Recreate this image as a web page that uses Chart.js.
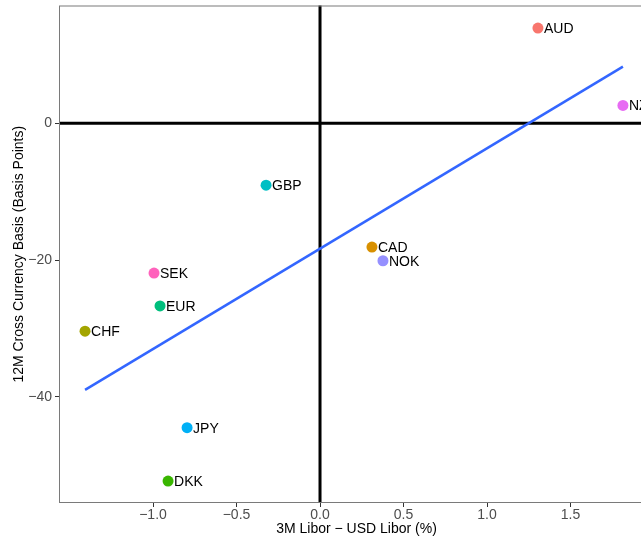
<!DOCTYPE html>
<html>
<head>
<meta charset="utf-8">
<script src="https://cdn.jsdelivr.net/npm/chart.js@4.4.1/dist/chart.umd.min.js"></script>
<style>
    html, body { margin: 0; padding: 0; background: #fff; width: 641px; height: 538px; overflow: hidden; }
    canvas { display: block; }
</style>
</head>
<body>
<canvas id="basis-chart" width="660" height="538"></canvas>
<script>
// Datos
const monedas = ['AUD', 'NZD', 'GBP', 'CAD', 'NOK', 'SEK', 'EUR', 'CHF', 'JPY', 'DKK'];
const diferencialLibor = [1.305, 1.814, -0.323, 0.311, 0.377, -0.994, -0.958, -1.407, -0.796, -0.910];
const basisPuntos = [13.9, 2.6, -9.05, -18.1, -20.1, -21.9, -26.7, -30.4, -44.5, -52.3];
const coloresMoneda = ['#F8766D', '#E76BF3', '#00BFC4', '#D89000', '#9590FF', '#FF62BC', '#00BF7D', '#A3A500', '#00B0F6', '#39B600'];
const xTicks = [-1.0, -0.5, 0.0, 0.5, 1.0, 1.5];
const yTicks = [-40, -20, 0];

document.addEventListener('DOMContentLoaded', () => {
    const canvas = document.getElementById('basis-chart');

    // Recta de regresión (mínimos cuadrados) sobre los puntos
    const n = diferencialLibor.length;
    const mediaX = diferencialLibor.reduce((a, b) => a + b, 0) / n;
    const mediaY = basisPuntos.reduce((a, b) => a + b, 0) / n;
    let sxy = 0, sxx = 0;
    for (let i = 0; i < n; i++) {
        sxy += (diferencialLibor[i] - mediaX) * (basisPuntos[i] - mediaY);
        sxx += (diferencialLibor[i] - mediaX) ** 2;
    }
    const pendiente = sxy / sxx;
    const intercepto = mediaY - pendiente * mediaX;
    const xMin = Math.min(...diferencialLibor);
    const xMax = Math.max(...diferencialLibor);
    const recta = [xMin, xMax].map(x => ({ x: x, y: intercepto + pendiente * x }));

    const menos = s => String(s).replace('-', '\u2212');

    // Marco del panel y líneas en cero
    const panelPlugin = {
        id: 'panel',
        beforeDatasetsDraw(chart) {
            const { ctx, chartArea: a, scales } = chart;
            ctx.save();
            ctx.strokeStyle = '#000';
            ctx.lineWidth = 3;
            const x0 = scales.x.getPixelForValue(0);
            const y0 = scales.y.getPixelForValue(0);
            ctx.beginPath();
            ctx.moveTo(a.left, y0);
            ctx.lineTo(a.right, y0);
            ctx.moveTo(x0, a.top);
            ctx.lineTo(x0, a.bottom);
            ctx.stroke();
            ctx.restore();
        },
        afterDraw(chart) {
            const { ctx, chartArea: a } = chart;
            ctx.save();
            ctx.strokeStyle = '#7a7a7a';
            ctx.lineWidth = 1;
            ctx.strokeRect(a.left + 0.5, a.top + 0.5, a.right - a.left - 1, a.bottom - a.top - 1);
            ctx.restore();
        }
    };

    // Etiquetas de cada moneda
    const etiquetasPlugin = {
        id: 'etiquetas',
        afterDatasetsDraw(chart) {
            const { ctx } = chart;
            const meta = chart.getDatasetMeta(1);
            ctx.save();
            ctx.font = '14px "Liberation Sans", Arial, sans-serif';
            ctx.fillStyle = '#000';
            ctx.textAlign = 'left';
            ctx.textBaseline = 'middle';
            meta.data.forEach((punto, i) => {
                ctx.fillText(monedas[i], punto.x + 6, punto.y + 1);
            });
            ctx.restore();
        }
    };

    new Chart(canvas, {
        type: 'scatter',
        data: {
            datasets: [
                {
                    type: 'line',
                    label: 'Ajuste',
                    data: recta,
                    borderColor: '#3366FF',
                    borderWidth: 2.5,
                    pointRadius: 0,
                    fill: false
                },
                {
                    label: 'Monedas',
                    data: diferencialLibor.map((x, i) => ({ x: x, y: basisPuntos[i] })),
                    backgroundColor: coloresMoneda,
                    borderWidth: 0,
                    pointRadius: 5.5,
                    pointHoverRadius: 5.5
                }
            ]
        },
        options: {
            responsive: false,
            animation: false,
            devicePixelRatio: 1,
            layout: { padding: { top: 5, right: 6, left: 0, bottom: 0 } },
            plugins: {
                legend: { display: false },
                tooltip: { enabled: false }
            },
            scales: {
                x: {
                    type: 'linear',
                    min: -1.563,
                    max: 2.0,
                    afterBuildTicks: s => { s.ticks = xTicks.map(v => ({ value: v })); },
                    afterFit: s => { s.height = 35; s.paddingLeft = 0; s.paddingRight = 0; },
                    ticks: {
                        callback: v => menos(Number(v).toFixed(1)),
                        color: '#4d4d4d',
                        font: { size: 14, family: '"Liberation Sans", Arial, sans-serif' },
                        padding: 0,
                        maxRotation: 0,
                        autoSkip: false
                    },
                    grid: { drawOnChartArea: false, tickLength: 4, color: '#333' },
                    border: { display: false },
                    title: {
                        display: true,
                        text: '3M Libor \u2212 USD Libor (%)',
                        color: '#000',
                        font: { size: 14, family: '"Liberation Sans", Arial, sans-serif' },
                        padding: { top: 0, bottom: 0 }
                    }
                },
                y: {
                    type: 'linear',
                    min: -55.5,
                    max: 17.2,
                    afterBuildTicks: s => { s.ticks = yTicks.map(v => ({ value: v })); },
                    afterFit: s => { s.width = 59; s.paddingTop = 0; s.paddingBottom = 0; },
                    ticks: {
                        callback: v => menos(v),
                        color: '#4d4d4d',
                        font: { size: 14, family: '"Liberation Sans", Arial, sans-serif' },
                        padding: 3
                    },
                    grid: { drawOnChartArea: false, tickLength: 4, color: '#333' },
                    border: { display: false },
                    title: {
                        display: true,
                        text: '12M Cross Currency Basis (Basis Points)',
                        color: '#000',
                        font: { size: 14, family: '"Liberation Sans", Arial, sans-serif' },
                        padding: { top: 11, bottom: 0 }
                    }
                }
            }
        },
        plugins: [panelPlugin, etiquetasPlugin]
    });
});
</script>
</body>
</html>
